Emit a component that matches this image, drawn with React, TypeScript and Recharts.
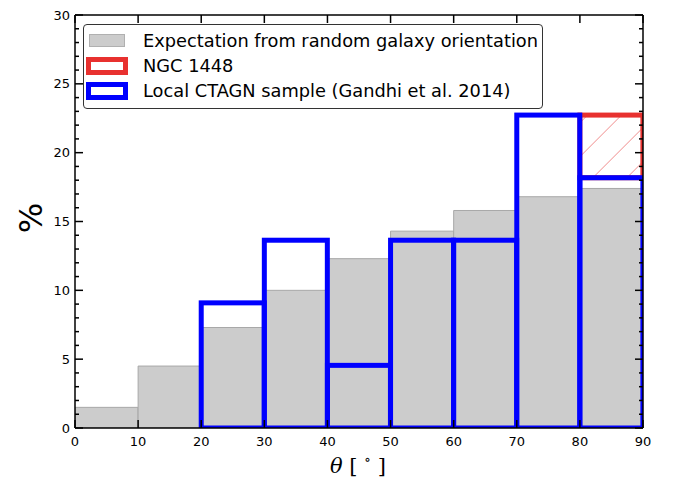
import { ComposedChart, Bar, XAxis, YAxis, Label } from "recharts";

// histogram bin edges (theta, degrees)
const xTicks = [0, 10, 20, 30, 40, 50, 60, 70, 80, 90];
const yTicks = Array.from({ length: 31 }, (_, i) => i);

// percent per bin
const expected = [1.5, 4.5, 7.3, 10.0, 12.3, 14.3, 15.8, 16.8, 17.4];
const ctagn = [0, 0, 9.09, 13.64, 4.55, 13.64, 13.64, 22.73, 18.18];
const ngc1448 = [0, 0, 0, 0, 0, 0, 0, 0, 4.55];

const data = expected.map((v, i) => ({
  mid: (xTicks[i] + xTicks[i + 1]) / 2,
  expected: v,
  ctagn: ctagn[i],
  ngc: [ctagn[i], ctagn[i] + ngc1448[i]],
}));

const BLUE = "#0000ff";
const RED = "#e8312f";
const HATCH = "#f08c8c";
const FONT = "DejaVu Sans, sans-serif";

const BlueShape = (p: any) => {
  const { x, y, width, height } = p;
  return <rect x={x} y={y} width={width} height={Math.max(height, 0)} fill="none" stroke={BLUE} strokeWidth={5} />;
};

// red outlined bar with "/" hatching, like matplotlib hatch='/'
const RedShape = (p: any) => {
  const { x, y, width, height } = p;
  if (!height || Math.abs(height) < 0.5) return <g />;
  const step = 34;
  const lines = [];
  for (let s = 13 - step * Math.ceil(height / step); s < width; s += step) {
    lines.push(<line key={s} x1={x + s} y1={y + height} x2={x + s + height} y2={y} stroke={HATCH} strokeWidth={1} />);
  }
  return (
    <g>
      <defs>
        <clipPath id="ngcClip">
          <rect x={x} y={y} width={width} height={height} />
        </clipPath>
      </defs>
      <rect x={x} y={y} width={width} height={height} fill="#fff" />
      <g clipPath="url(#ngcClip)">{lines}</g>
      <rect x={x} y={y} width={width} height={height} fill="none" stroke={RED} strokeWidth={5} />
    </g>
  );
};

const LeftTick = (p: any) => {
  const { x, y, payload } = p;
  const major = payload.value % 5 === 0;
  return (
    <g>
      <line x1={x} x2={x + (major ? 8 : 4)} y1={y} y2={y} stroke="#000" strokeWidth={1.5} />
      {major && (
        <text x={x - 5} y={y} dy={4.5} textAnchor="end" fontSize={13} fontFamily={FONT} fill="#000">
          {payload.value}
        </text>
      )}
    </g>
  );
};

const RightTick = (p: any) => {
  const { x, y, payload } = p;
  const major = payload.value % 5 === 0;
  return <line x1={x} x2={x - (major ? 8 : 4)} y1={y} y2={y} stroke="#000" strokeWidth={1.5} />;
};

const BottomTick = (p: any) => {
  const { x, y, payload } = p;
  return (
    <g>
      <line x1={x} x2={x} y1={y} y2={y - 8} stroke="#000" strokeWidth={1.5} />
      <text x={x} y={y} dy={18} textAnchor="middle" fontSize={13} fontFamily={FONT} fill="#000">
        {payload.value}
      </text>
    </g>
  );
};

const TopTick = (p: any) => {
  const { x, y } = p;
  return <line x1={x} x2={x} y1={y} y2={y + 8} stroke="#000" strokeWidth={1.5} />;
};

const swatch = (bg: string, border: string, bw: number) => ({
  width: 36 + (bw > 1 ? 6 : 0) - bw * 2,
  height: 13 + (bw > 1 ? 5 : 0) - bw * 2,
  background: bg,
  border: `${bw}px solid ${border}`,
  marginLeft: bw > 1 ? 0 : 3,
  marginRight: bw > 1 ? 15 : 18,
  flex: "none" as const,
});

const numAxis = {
  type: "number" as const,
  dataKey: "mid",
  domain: [0, 90],
  ticks: xTicks,
  interval: 0 as const,
  tickSize: 0,
  tickMargin: 0,
  tickLine: false,
  allowDataOverflow: true,
};

const yAxis = {
  type: "number" as const,
  domain: [0, 30],
  ticks: yTicks,
  interval: 0 as const,
  tickSize: 0,
  tickMargin: 0,
  tickLine: false,
  allowDataOverflow: true,
  axisLine: { stroke: "#000", strokeWidth: 1.5 },
};

export default function App() {
  return (
    <div style={{ position: "absolute", left: 0, top: 0, width: 680, height: 479, background: "#fff" }}>
      <ComposedChart
        width={680}
        height={479}
        data={data}
        margin={{ top: 14, right: 36, bottom: 21, left: 15 }}
        barCategoryGap={0}
        barGap={0}
      >
        <XAxis
          xAxisId="num"
          {...numAxis}
          height={30}
          tick={<BottomTick />}
          axisLine={{ stroke: "#000", strokeWidth: 1.5 }}
        >
          <Label
            content={() => (
              <text x={358} y={473} textAnchor="middle" fontSize={21} fontFamily="DejaVu Serif, serif" fill="#000">
                <tspan fontStyle="italic">θ</tspan>
                <tspan> [ </tspan>
                <tspan fontSize={14} dy={-9}>∘</tspan>
                <tspan dy={9}> ]</tspan>
              </text>
            )}
          />
        </XAxis>
        <XAxis xAxisId="b" {...numAxis} hide height={0} />
        <XAxis
          xAxisId="top"
          orientation="top"
          {...numAxis}
          height={1}
          tick={<TopTick />}
          axisLine={{ stroke: "#000", strokeWidth: 1.5 }}
        />
        <YAxis yAxisId="left" {...yAxis} width={60} tick={<LeftTick />}>
          <Label
            content={() => (
              <text x={31} y={218} textAnchor="middle" fontSize={32} fontFamily={FONT} fill="#000" transform="rotate(-90 31 218)" dy={11}>
                %
              </text>
            )}
          />
        </YAxis>
        <YAxis yAxisId="right" orientation="right" {...yAxis} width={1} tick={<RightTick />} />
        <Bar
          xAxisId="num"
          yAxisId="left"
          dataKey="expected"
          fill="#cccccc"
          stroke="#a8a8a8"
          strokeWidth={1}
          isAnimationActive={false}
        />
        <Bar xAxisId="top" yAxisId="left" dataKey="ngc" shape={<RedShape />} isAnimationActive={false} />
        <Bar xAxisId="b" yAxisId="right" dataKey="ctagn" shape={<BlueShape />} isAnimationActive={false} />
      </ComposedChart>
      <div
        style={{
          position: "absolute",
          left: 83,
          top: 24,
          width: 460,
          height: 85,
          border: "1px solid #333",
          borderRadius: 4,
          background: "#fff",
          fontFamily: FONT,
          fontSize: 17.8,
          color: "#000",
          padding: "3px 0 0 2px",
          boxSizing: "border-box",
          whiteSpace: "nowrap",
        }}
      >
        {[
          { label: "Expectation from random galaxy orientation", sw: swatch("#cccccc", "#b0b0b0", 1) },
          { label: "NGC 1448", sw: swatch("#fff", RED, 5) },
          { label: "Local CTAGN sample (Gandhi et al. 2014)", sw: swatch("#fff", BLUE, 5) },
        ].map((r) => (
          <div key={r.label} style={{ display: "flex", alignItems: "center", height: 25 }}>
            <div style={r.sw} />
            <span>{r.label}</span>
          </div>
        ))}
      </div>
    </div>
  );
}
